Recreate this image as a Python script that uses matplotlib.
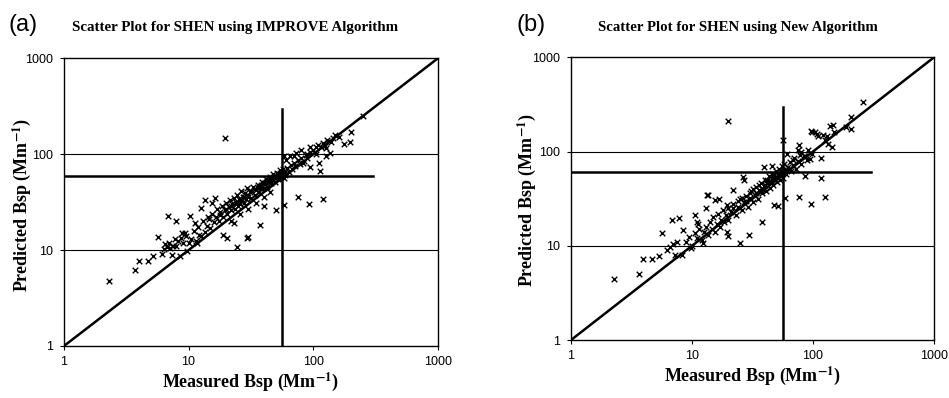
import matplotlib
matplotlib.use("Agg")
import matplotlib.pyplot as plt

# ---------------- Data ----------------
# panel (a): IMPROVE algorithm
x_a = [2.3, 3.7, 4.0, 4.7, 5.2, 5.7, 6.1, 6.8, 7.9, 6.3, 6.7, 7.1, 7.5, 7.4, 8.3, 8.5, 9.8, 8.9, 9.4,
       10.3, 11.3, 11.6, 12.2, 12.7, 13.5, 14.2, 15.3, 16.3, 19.0, 20.2, 19.8, 23.3, 24.7, 29.2, 29.8,
       37.5, 40.5, 50, 58.5, 76, 92.5, 120, 113, 111, 95, 83, 73.5, 128, 136, 178, 197, 203, 250, 145,
       94, 106, 128, 65, 61, 58,
       10.5, 11, 11.5, 12, 12.5, 13, 13.5, 14, 14.5, 15, 15.5, 16, 16.5, 17, 17.5, 18, 18.5, 19, 19.5, 20,
       20.5, 21, 21.5, 22, 22.5, 23, 23.5, 24, 24.5, 25, 25.5, 26, 26.5, 27, 27.5, 28, 28.5, 29, 29.5, 30,
       22, 26, 30, 35, 40, 45,
       31, 32, 33, 34, 35, 36, 37, 38, 39, 40, 41, 42, 43, 44, 45,
       46, 47, 48, 49, 50, 51, 52, 53, 54, 55, 56, 57, 58, 59, 60,
       62, 64, 66, 68, 70, 72, 75, 78, 80, 85, 88, 90, 95, 100, 105, 110, 115, 120, 125, 130, 140, 150, 160,
       18, 20, 22, 24, 26, 28, 30, 32, 34, 36, 38, 40, 42, 44, 46, 48, 50, 52, 54, 56,
       6.5, 7, 7.8, 8, 8.7, 9, 9.5, 10, 70, 80, 90]
y_a = [4.8, 6.2, 7.7, 7.7, 8.6, 13.8, 9.1, 22.9, 20.2, 10.3, 10.8, 10.6, 11.0, 8.9, 12.5, 8.6, 9.8, 15.0, 15.0,
       22.8, 19.0, 11.8, 14.4, 27.3, 33.5, 22.4, 30.8, 34.7, 14.4, 13.3, 149, 19.4, 10.9, 13.3, 13.6,
       18.3, 28.9, 26.2, 29.6, 35.8, 30.2, 34, 67, 81, 74, 81, 104, 96, 102, 128, 133, 172, 251, 149,
       118, 120, 115, 95, 87, 97,
       13, 16, 12.5, 17.5, 14, 20, 15.5, 18, 21, 17, 24, 19.5, 22, 27, 20, 25, 29, 22, 26, 31,
       24, 28, 33, 26, 30, 35, 27, 32, 38, 29, 34, 30, 41, 33, 36, 31, 39, 34, 44, 36,
       20, 24, 27, 31, 36, 40,
       40, 35, 46, 38, 42, 48, 40, 45, 52, 44, 49, 55, 46, 51, 58,
       50, 54, 62, 52, 57, 64, 55, 60, 68, 58, 63, 70, 56, 66, 61,
       72, 65, 78, 70, 82, 75, 88, 80, 92, 86, 98, 92, 105, 110, 100, 125, 118, 130, 122, 140, 135, 160, 150,
       23, 27, 29, 30, 33, 36, 38, 41, 43, 44, 48, 50, 52, 54, 56, 58, 60, 62, 64, 66,
       11.5, 12, 13, 11, 13.5, 12, 14, 12, 95, 110, 100]

# panel (b): new algorithm
x_b = [2.27, 3.65, 3.96, 4.67, 5.3, 5.7, 6.8, 7.8, 6.2, 6.6, 7.0, 7.5, 7.2, 8.2, 8.5, 9.8, 10.6, 11, 11.3,
       13.5, 13, 12.4, 19.3, 20, 20, 24.9, 29.8, 37.6, 48, 51, 58.6, 77, 96, 126, 116, 116, 86, 77, 57,
       96, 104, 108, 138, 145, 207, 207, 260, 186, 143, 126, 130, 80, 86, 98, 110, 120, 150, 133, 75,
       91, 98, 95, 68, 60.5,
       9, 9.5, 10, 10.5, 11, 11.5, 12, 12.5, 13, 13.5, 14, 14.5, 15, 15.5, 16, 16.5, 17, 17.5, 18, 18.5,
       19, 19.5, 20, 21, 22, 22, 23, 24, 25, 26, 26.5, 27, 27, 28, 29, 30, 31, 32, 33, 34, 35, 36, 37,
       38, 39, 39, 40, 41, 42, 43, 44, 45.5, 45, 46, 47, 48, 49, 50, 51, 52, 53, 54, 55, 56, 57, 58,
       60, 62, 64, 66, 68, 70, 72, 75, 78, 80, 85, 90,
       15.5, 16.8, 13.4, 20, 22, 24, 26, 28, 30, 32, 34, 36, 38, 40, 42, 44, 46, 48, 50, 52, 54, 56, 58, 60]
y_b = [4.4, 5.0, 7.3, 7.2, 7.8, 13.5, 18.7, 19.5, 9.0, 9.8, 10.5, 11.0, 8.0, 8.0, 14.6, 9.4, 21, 18, 17,
       34.5, 25, 10.7, 14, 12.8, 210, 10.8, 13, 17.7, 27, 26.5, 32, 33, 28, 33, 52, 86, 55, 117, 132,
       165, 160, 152, 185, 190, 230, 172, 335, 180, 112, 132, 148, 100, 90, 161, 145, 150, 160, 121, 103,
       103, 95, 84, 81, 95,
       11, 12.5, 10, 13.5, 12, 15, 11.5, 14, 16, 13, 18, 15, 20, 14, 17, 22, 16, 19, 24, 18,
       21, 27, 19, 23, 28, 39, 21, 26, 31, 24, 54, 50, 29, 34, 26, 32, 38, 29, 35, 42, 31, 39, 46,
       36, 69, 43, 50, 38, 46, 55, 41, 71, 49, 58, 44, 53, 62, 47, 56, 66, 50, 60, 70, 52, 63, 74,
       58, 68, 78, 62, 72, 86, 66, 80, 92, 74, 90, 82,
       30.5, 31, 35, 25, 25, 30, 32, 30, 36, 40, 36, 44, 40, 44, 50, 48, 52, 56, 54, 58, 56, 60, 62, 64]

# mean lines (x at measured mean, y at predicted mean), both drawn up to 300
mean_a = (56, 60)
mean_b = (57, 61)
cross_end = 300

titles = ["Scatter Plot for SHEN using IMPROVE Algorithm",
          "Scatter Plot for SHEN using New Algorithm"]
ticks = [1, 10, 100, 1000]
tick_labels = ["1", "10", "100", "1000"]

plt.rcParams["mathtext.fontset"] = "stix"

fig = plt.figure(figsize=(9.49, 3.98), dpi=100)
ax_a = fig.add_axes([0.0674, 0.1307, 0.3938, 0.7224])
ax_b = fig.add_axes([0.6017, 0.1457, 0.3825, 0.7103])

panels = [(ax_a, x_a, y_a, mean_a), (ax_b, x_b, y_b, mean_b)]
for ax, xs, ys, (mx, my) in panels:
    ax.set_xscale("log")
    ax.set_yscale("log")
    ax.set_xlim(1, 1000)
    ax.set_ylim(1, 1000)
    ax.axhline(10, color="black", lw=0.8, zorder=1)
    ax.axhline(100, color="black", lw=0.8, zorder=1)
    ax.plot([1, 1000], [1, 1000], color="black", lw=1.8, zorder=2)
    ax.plot([mx, mx], [1, cross_end], color="black", lw=1.8, zorder=2)
    ax.plot([1, cross_end], [my, my], color="black", lw=1.8, zorder=2)
    ax.scatter(xs, ys, marker="x", s=16, color="black", linewidths=1.0, zorder=3)
    ax.set_xticks(ticks)
    ax.set_xticklabels(tick_labels, family="Liberation Sans", fontsize=9)
    ax.set_yticks(ticks)
    ax.set_yticklabels(tick_labels, family="Liberation Sans", fontsize=9)
    ax.minorticks_off()
    ax.tick_params(direction="out", length=3, width=0.8)
    ax.tick_params(axis="x", pad=4)
    ax.tick_params(axis="y", pad=5)
    for sp in ax.spines.values():
        sp.set_linewidth(1.0)
    ax.set_xlabel(r"Measured Bsp (Mm$^{\mathbf{-1}}$)", family="Liberation Serif",
                  fontweight="bold", fontsize=13, labelpad=2)

# y labels placed by hand so they sit where the reference has them
ylab = r"Predicted Bsp (Mm$^{\mathbf{-1}}$)"
fig.text(22 / 949, 1 - 205 / 398, ylab, family="Liberation Serif", fontweight="bold",
         fontsize=13, rotation=90, ha="center", va="center")
fig.text(527 / 949, 1 - 200 / 398, ylab, family="Liberation Serif", fontweight="bold",
         fontsize=13, rotation=90, ha="center", va="center")

# panel letters and titles
fig.text(9 / 949, 1 - 25 / 398, "(a)", family="Liberation Sans", fontsize=17, va="center")
fig.text(517 / 949, 1 - 25 / 398, "(b)", family="Liberation Sans", fontsize=17, va="center")
fig.text(235 / 949, 1 - 27 / 398, titles[0], family="Liberation Serif", fontweight="bold",
         fontsize=10.8, ha="center", va="center")
fig.text(738 / 949, 1 - 27 / 398, titles[1], family="Liberation Serif", fontweight="bold",
         fontsize=10.7, ha="center", va="center")

fig.savefig("out.png", dpi=100)
